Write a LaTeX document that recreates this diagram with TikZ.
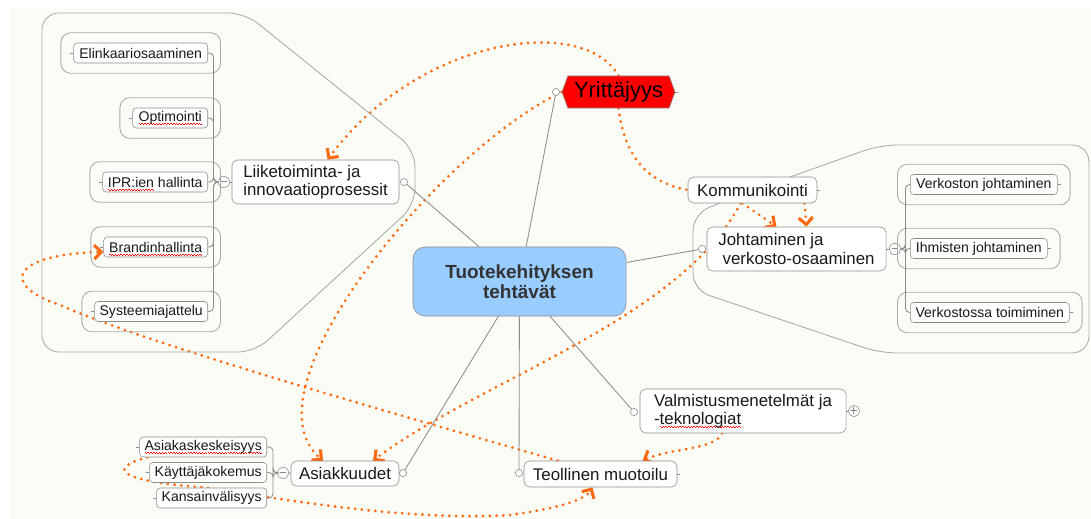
\documentclass[tikz,border=0pt]{standalone}
\usepackage{fontspec}
\setmainfont{Liberation Sans}
\usetikzlibrary{arrows.meta,shapes.symbols,backgrounds}

\definecolor{paper}{HTML}{FCFCF6}
\definecolor{linkorange}{HTML}{FF6A10}
\definecolor{boxgray}{HTML}{8C8C8C}
\definecolor{framegray}{HTML}{A8A8A8}
\definecolor{centreblue}{HTML}{99CCFF}

% red wavy underline of the spell checker
\newsavebox{\spellbox}
\newcommand{\spell}[1]{\sbox{\spellbox}{#1}%
	\rlap{\color{red}\raisebox{-2.4pt}[0pt][0pt]{\hbox to \wd\spellbox{\xleaders\hbox{\rule[0.7pt]{1pt}{0.45pt}\rule{1pt}{0.45pt}}\hfill}}}%
	\usebox{\spellbox}}

\begin{document}
\begin{tikzpicture}[x=0.025cm,y=-0.025cm]
	\tikzstyle{box}=[draw=boxgray, fill=white, rounded corners=2.5pt, text=black!90, inner sep=0pt]
	\tikzstyle{leaf}=[box, minimum height=0.5cm, font=\fontsize{10}{12}\selectfont]
	\tikzstyle{topic}=[box, rounded corners=4pt, align=left, font=\fontsize{12}{13}\selectfont]
	\tikzstyle{knob}=[circle, draw=boxgray, fill=white, inner sep=0pt, minimum size=0.18cm]
	\tikzstyle{fold}=[circle, draw=boxgray, fill=white, inner sep=0pt, minimum size=0.28cm, font=\fontsize{7}{7}\selectfont]
	\tikzstyle{grpframe}=[draw=framegray, line width=0.6pt, rounded corners=7pt]
	\tikzstyle{branch}=[draw=boxgray, line width=0.6pt]
	\tikzstyle{link}=[draw=linkorange, line width=2.2pt, line cap=round, dash pattern=on 0pt off 4.8pt]
	\tikzstyle{arrowed}=[-{Straight Barb[length=5pt,width=10pt]}]

	\useasboundingbox (0,0) rectangle (1091,519);

	% main topics
	\node[box, fill=centreblue, rounded corners=0.3cm, minimum width=5.325cm, minimum height=1.725cm, align=center, text=black!80, font=\fontsize{13.5}{14.5}\selectfont\bfseries] (cen) at (519.5,281.5) {Tuotekehityksen\\tehtävät};
	\node[signal, signal to=west and east, signal pointer angle=140, draw=boxgray, fill=red, inner sep=0pt, minimum width=2.825cm, minimum height=0.8cm, font=\fontsize{15.6}{16}\selectfont] (yri) at (618.5,92) {Yrittäjyys};
	\node[topic, minimum width=4.175cm, minimum height=1.1cm] (lii) at (315.5,182) {Liiketoiminta- ja\\innovaatioprosessit};
	\node[topic, minimum width=3.225cm, minimum height=0.65cm] (kom) at (752.5,190) {Kommunikointi};
	\node[topic, minimum width=4.475cm, minimum height=1.1cm] (joh) at (796.5,249) {Johtaminen ja\\\hspace*{3pt}verkosto-osaaminen};
	\node[topic, minimum width=5.15cm, minimum height=1.1cm] (val) at (743,411) {Valmistusmenetelmät ja\\-\spell{teknologiat}};
	\node[topic, minimum width=3.825cm, minimum height=0.65cm] (teo) at (600.5,474) {Teollinen muotoilu};
	\node[topic, minimum width=2.7cm, minimum height=0.625cm] (asi) at (345,473.5) {Asiakkuudet};

	% subtopics
	\node[leaf, anchor=east, minimum width=3.35cm] (elin) at (208,53) {Elinkaariosaaminen};
	\node[leaf, anchor=east, minimum width=1.875cm] (opt) at (208,118) {\spell{Optimointi}};
	\node[leaf, anchor=east, minimum width=2.625cm] (ipr) at (208,182) {\spell{IPR:ien} hallinta};
	\node[leaf, anchor=east, minimum width=2.6cm] (bra) at (208,247) {\spell{Brandinhallinta}};
	\node[leaf, anchor=east, minimum width=2.825cm] (sys) at (208,311.5) {Systeemiajattelu};

	\node[leaf, anchor=west, minimum width=3.675cm] (vjoh) at (910,184.5) {Verkoston johtaminen};
	\node[leaf, anchor=west, minimum width=3.425cm] (ihm) at (910,248.5) {Ihmisten johtaminen};
	\node[leaf, anchor=west, minimum width=3.975cm] (vtoi) at (910,312.5) {Verkostossa toimiminen};

	\node[leaf, anchor=east, minimum width=3.175cm] (akes) at (267,447) {\spell{Asiakaskeskeisyys}};
	\node[leaf, anchor=east, minimum width=2.925cm] (kay) at (267,472.5) {Käyttäjäkokemus};
	\node[leaf, anchor=east, minimum width=2.75cm] (kan) at (267,498) {Kansainvälisyys};

	% knobs and fold marks
	\node[knob] (kyri) at (556,92) {};
	\node[knob] (klii) at (404,182) {};
	\node[knob] (kjoh) at (702,249) {};
	\node[knob] (kval) at (634,412) {};
	\node[knob] (kteo) at (519,473) {};
	\node[knob] (kasi) at (403,473) {};
	\node[fold] (flii) at (224,182) {$-$};
	\node[fold] (fjoh) at (895,249) {$-$};
	\node[fold] (fasi) at (283,473) {$-$};
	\node[fold] (fval) at (854,411) {$+$};

	% group frames
	\draw[grpframe, rounded corners=12pt] (42,13) -- (245,13) -- (415,150) -- (415,205) -- (255,352) -- (42,352) -- cycle;
	\draw[grpframe, rounded corners=12pt] (720,203) -- (693,214) -- (693,290) -- (880,353) -- (1089,353) -- (1089,145) -- (880,145) -- (790,177);
	\foreach \c in {elin,opt,ipr,bra,sys,vjoh,ihm,vtoi}
		\draw[grpframe] ([shift={(-12.5,-10)}]\c.north west) rectangle ([shift={(12.5,10)}]\c.south east);

	% branches
	\foreach \k in {kyri,klii,kjoh,kval,kteo,kasi}
		\draw[branch] (cen) -- (\k);
	\foreach \k/\n in {kyri/yri,flii/lii,fjoh/joh,fval/val,fasi/asi}
		\draw[branch] (\k) -- (\n);
	\foreach \c in {elin,opt,ipr,bra,sys}
		\draw[branch, rounded corners=3pt] (flii.west) -- ++(-4.5,0) |- (\c.east);
	\foreach \c in {vjoh,ihm,vtoi}
		\draw[branch, rounded corners=3pt] (fjoh.east) -- ++(4.5,0) |- (\c.west);
	\foreach \c in {akes,kay,kan}
		\draw[branch, rounded corners=3pt] (fasi.west) -- ++(-4,0) |- (\c.east);
	\foreach \c in {elin,opt,ipr,bra,sys,akes,kay,kan}
		\draw[branch] (\c.west) -- ++(-3,0);
	\foreach \c in {vjoh,ihm,vtoi,kom,teo,yri}
		\draw[branch] (\c.east) -- ++(3,0);

	% dotted relations
	\begin{pgfonlayer}{background}
		\fill[paper] (10,8) rectangle (1091,519);
		\draw[link, arrowed] (yri.north) .. controls (585,15) and (420,35) .. ([xshift=0.3cm]lii.north);
		\draw[link] (yri.south) .. controls (625,160) and (650,183) .. (kom.west);
		\draw[link, arrowed] (yri.west) .. controls (440,150) and (240,390) .. ([xshift=-0.55cm]asi.north);
		\draw[link, arrowed] ([xshift=-0.3cm]kom.south) .. controls (680,320) and (480,380) .. ([xshift=0.7cm]asi.north);
		\draw[link, arrowed] ([xshift=-0.25cm]kom.south) -- ([xshift=-0.5cm]joh.north);
		\draw[link, arrowed] ([xshift=1.3cm]kom.south) -- ([xshift=0.25cm]joh.north);
		\draw[link, arrowed] ([xshift=0.85cm]teo.north west) .. controls (400,415) and (150,345) .. (60,305) .. controls (0,285) and (10,255) .. ([yshift=-0.12cm]bra.west);
		\draw[link, arrowed] ([xshift=-0.525cm]val.south) .. controls (715,450) and (670,448) .. ([xshift=1.05cm]teo.north);
		\draw[link, arrowed] ([xshift=0.2cm]akes.south west) .. controls (100,470) and (130,482) .. (200,487) .. controls (260,495) and (400,522) .. (510,515) .. controls (560,508) and (585,500) .. ([xshift=-0.2cm]teo.south);
	\end{pgfonlayer}
\end{tikzpicture}
\end{document}
